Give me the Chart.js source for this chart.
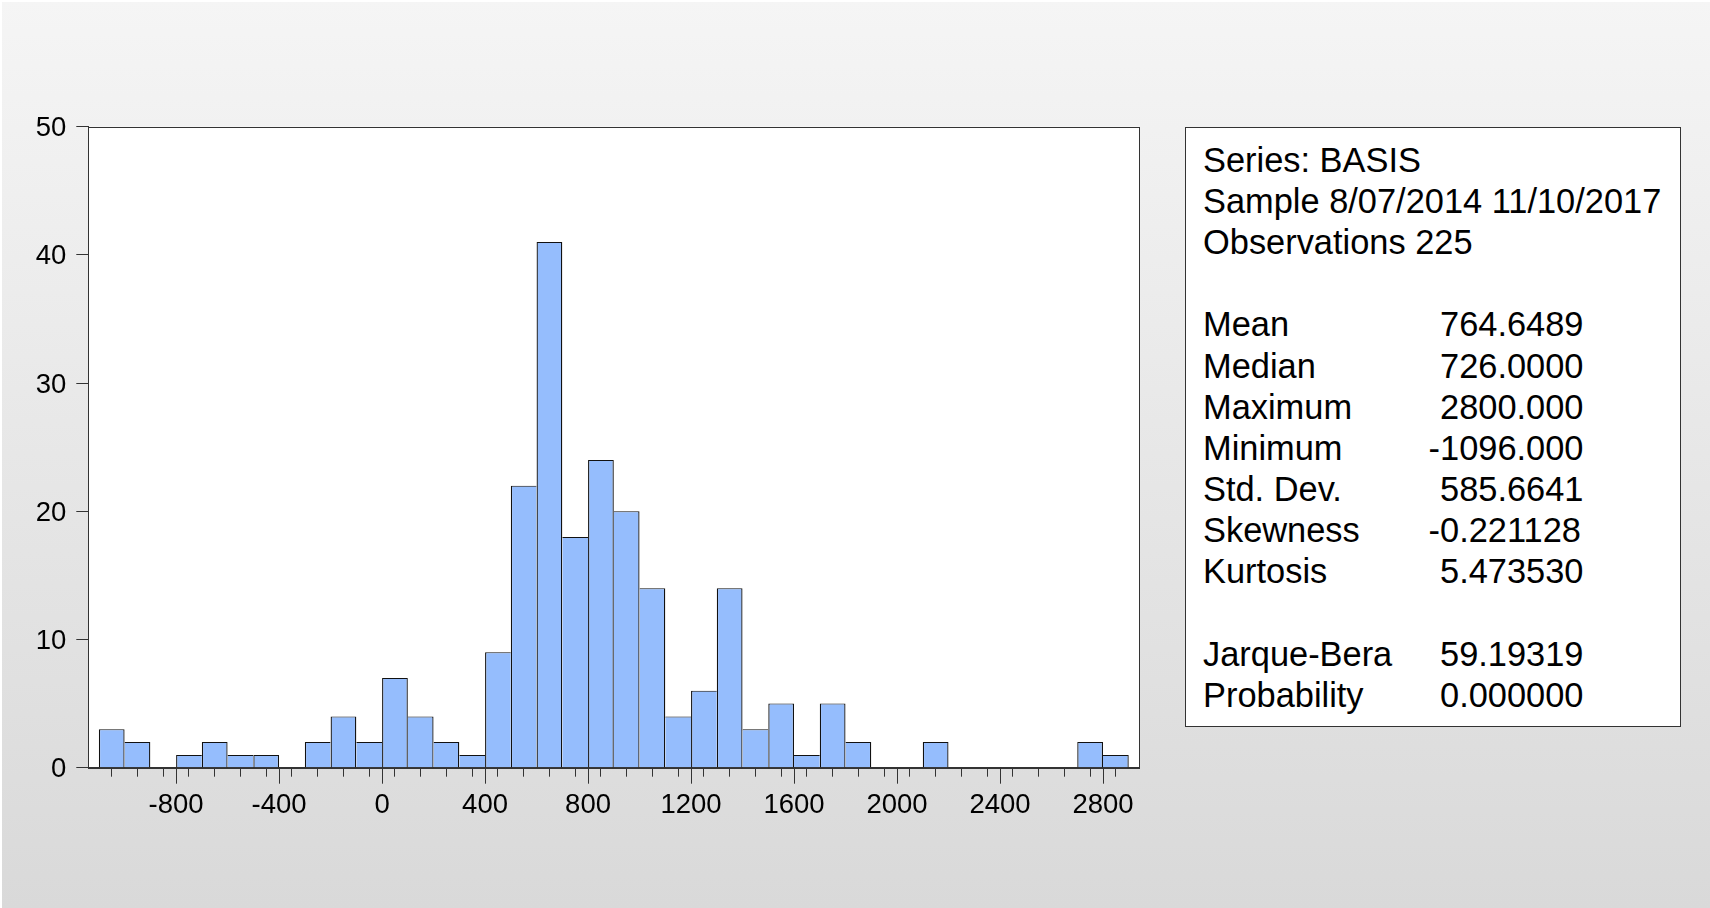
<!DOCTYPE html>
<html>
<head>
<meta charset="utf-8">
<title>Histogram of BASIS</title>
<script src="https://cdn.jsdelivr.net/npm/chart.js@4.4.1/dist/chart.umd.min.js"></script>
<style>
  html, body { margin: 0; padding: 0; }
  body {
    width: 1710px; height: 908px; overflow: hidden;
    font-family: "Liberation Sans", Arial, sans-serif;
  }
  #wrap {
    position: absolute; left: 0; top: 0; width: 1710px; height: 908px;
    background: linear-gradient(to bottom, #f5f5f5 0%, #d9d9d9 100%);
    box-shadow: inset 2px 2px 0 #fff;
  }
  #chart { position: absolute; left: 0; top: 0; }
  #stats {
    position: absolute; left: 1185px; top: 127px;
    width: 496px; height: 600px; box-sizing: border-box;
    background: #fff; border: 1px solid #333;
    padding-top: 11.6px;
    font-size: 34.4px; color: #000;
  }
  #stats .row { position: relative; height: 41.2px; line-height: 41.2px; padding-left: 17px; white-space: nowrap; }
  #stats .val { position: absolute; left: 254px; top: 0; }
  #stats .neg { position: absolute; right: 100%; top: 0; }
</style>
</head>
<body>
<div id="wrap">
  <canvas id="chart" width="1710" height="908"></canvas>
  <div id="stats"></div>
</div>
<script>
// histogram bins (lower edge of each 100-wide bin) and the counts
var binStarts = [-1100, -1000, -900, -800, -700, -600, -500, -400, -300, -200, -100,
                 0, 100, 200, 300, 400, 500, 600, 700, 800, 900, 1000, 1100, 1200,
                 1300, 1400, 1500, 1600, 1700, 1800, 1900, 2000, 2100, 2200, 2300,
                 2400, 2500, 2600, 2700, 2800];
var counts = [3, 2, 0, 1, 2, 1, 1, 0, 2, 4, 2,
              7, 4, 2, 1, 9, 22, 41, 18, 24, 20, 14, 4, 6,
              14, 3, 5, 1, 5, 2, 0, 0, 2, 0, 0,
              0, 0, 0, 2, 1];
var binWidth = 100;
var binEnd = 2900;

var xTickLabels = [-800, -400, 0, 400, 800, 1200, 1600, 2000, 2400, 2800];
var yTicks = [0, 10, 20, 30, 40, 50];

// text panel
var headerLines = ['Series: BASIS', 'Sample 8/07/2014 11/10/2017', 'Observations 225'];
var statNames = ['Mean', 'Median', 'Maximum', 'Minimum', 'Std. Dev.', 'Skewness', 'Kurtosis'];
var statValues = ['764.6489', '726.0000', '2800.000', '-1096.000', '585.6641', '-0.221128', '5.473530'];
var testNames = ['Jarque-Bera', 'Probability'];
var testValues = ['59.19319', '0.000000'];

var points = binStarts.map(function (s, i) {
  return { x: s + binWidth / 2, y: counts[i] };
});
var edgeTicks = binStarts.concat([binEnd]);

// one line between neighbouring bars instead of two
function barBorder(ctx) {
  var i = ctx.dataIndex;
  var c = counts[i];
  if (!c) return 0;
  var prev = i > 0 ? counts[i - 1] : 0;
  var next = i < counts.length - 1 ? counts[i + 1] : 0;
  return { top: 1, left: prev <= c ? 1.3 : 0, right: next < c ? 1.3 : 0, bottom: 0 };
}

var framePlugin = {
  id: 'frame',
  beforeDraw: function (chart) {
    var a = chart.chartArea, g = chart.ctx;
    g.save();
    g.fillStyle = '#fff';
    g.fillRect(a.left, a.top, a.right - a.left, a.bottom - a.top);
    g.restore();
  },
  afterDraw: function (chart) {
    var a = chart.chartArea, g = chart.ctx, xs = chart.scales.x;
    g.save();
    g.strokeStyle = '#333';
    g.lineWidth = 1;
    g.strokeRect(Math.round(a.left) + 0.5, Math.round(a.top) + 0.5,
                 Math.round(a.right - a.left), Math.round(a.bottom - a.top));
    // longer ticks under the labelled values
    g.beginPath();
    xTickLabels.forEach(function (v) {
      var px = Math.round(xs.getPixelForValue(v)) + 0.5;
      g.moveTo(px, a.bottom);
      g.lineTo(px, a.bottom + 16);
    });
    g.stroke();
    g.restore();
  }
};

Chart.defaults.font.family = '"Liberation Sans", Arial, sans-serif';
Chart.defaults.color = '#000';

new Chart(document.getElementById('chart'), {
  type: 'bar',
  data: {
    datasets: [{
      data: points,
      backgroundColor: '#95bdfd',
      borderColor: '#111',
      borderWidth: barBorder,
      borderSkipped: false,
      barPercentage: 1,
      categoryPercentage: 1,
      inflateAmount: 0
    }]
  },
  options: {
    responsive: false,
    animation: false,
    layout: { padding: { left: 0, top: 126.7, right: 570.7, bottom: 40.3 } },
    plugins: { legend: { display: false }, tooltip: { enabled: false } },
    scales: {
      x: {
        type: 'linear',
        offset: false,
        min: -1141,
        max: 2941,
        afterBuildTicks: function (scale) {
          scale.ticks = edgeTicks.map(function (v) { return { value: v }; });
        },
        afterFit: function (scale) { scale.height = 100; },
        grid: { drawOnChartArea: false, tickLength: 9, tickColor: '#333', tickWidth: 1 },
        border: { display: true, color: '#333', width: 1 },
        ticks: {
          autoSkip: false,
          maxRotation: 0,
          padding: 12.5,
          font: { size: 27.5 },
          color: '#000',
          callback: function (v) { return xTickLabels.indexOf(v) >= 0 ? String(v) : ''; }
        }
      },
      y: {
        min: 0,
        max: 50,
        afterBuildTicks: function (scale) {
          scale.ticks = yTicks.map(function (v) { return { value: v }; });
        },
        afterFit: function (scale) { scale.width = 88.3; },
        grid: { drawOnChartArea: false, tickLength: 12, tickColor: '#333', tickWidth: 1 },
        border: { display: true, color: '#333', width: 1 },
        ticks: { padding: 10, labelOffset: 2, font: { size: 27.5 }, color: '#000' }
      }
    }
  },
  plugins: [framePlugin]
});

// statistics panel
var box = document.getElementById('stats');
function addRow(label, value) {
  var row = document.createElement('div');
  row.className = 'row';
  row.textContent = label || '';
  if (value) {
    var v = document.createElement('span');
    v.className = 'val';
    if (value.charAt(0) === '-') {
      var n = document.createElement('span');
      n.className = 'neg';
      n.textContent = '-';
      v.appendChild(n);
      v.appendChild(document.createTextNode(value.slice(1)));
    } else {
      v.textContent = value;
    }
    row.appendChild(v);
  }
  box.appendChild(row);
}
headerLines.forEach(function (t) { addRow(t); });
addRow('');
statNames.forEach(function (t, i) { addRow(t, statValues[i]); });
addRow('');
testNames.forEach(function (t, i) { addRow(t, testValues[i]); });
</script>
</body>
</html>
